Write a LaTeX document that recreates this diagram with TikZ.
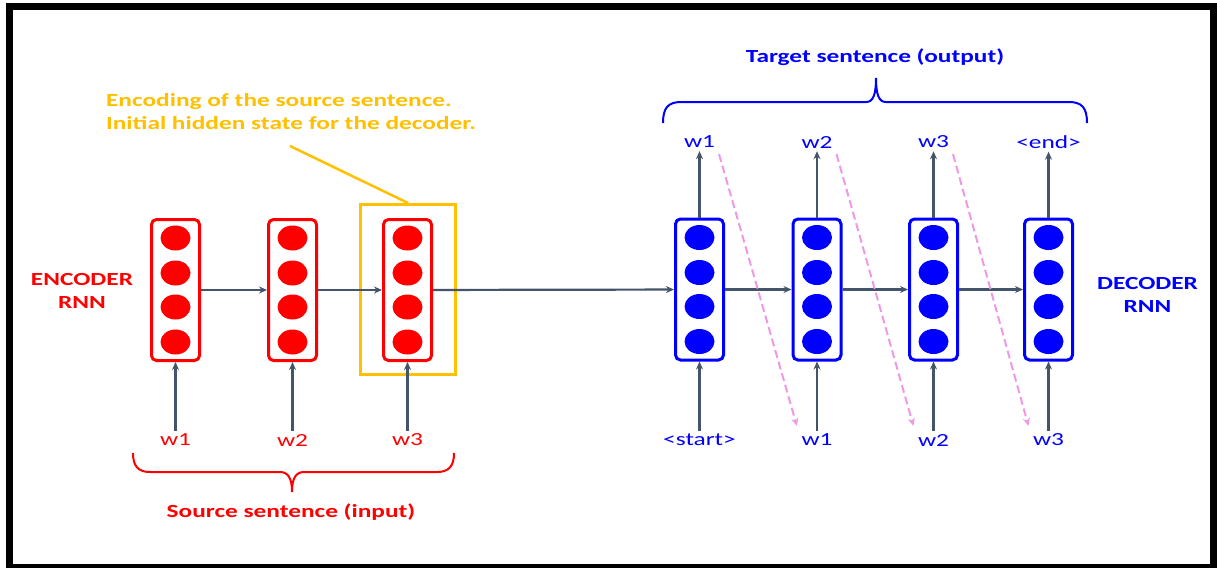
\documentclass[tikz,border=0pt]{standalone}
\usepackage{fontspec}
\setmainfont{Carlito}[FakeStretch=1.37]
\usetikzlibrary{arrows.meta}
\definecolor{encred}{HTML}{FF0000}
\definecolor{decblue}{HTML}{0000FF}
\definecolor{noteyellow}{HTML}{FFC000}
\definecolor{arrowgray}{HTML}{44546A}
\definecolor{feedpink}{HTML}{EE99E6}
\tikzset{
  cell/.style={draw, rounded corners=5pt, line width=3pt, minimum width=48pt, minimum height=141pt, inner sep=0pt},
  word/.style={font=\fontsize{18.5}{20}\selectfont, inner sep=3pt},
  title/.style={font=\fontsize{18.5}{23}\selectfont\bfseries},
  arr/.style={draw=arrowgray, line width=2.2pt, -{Stealth[length=8pt,width=7pt]}},
  feed/.style={draw=feedpink, line width=2pt, dash pattern=on 8pt off 4pt, shorten <=3pt, shorten >=5pt, -{Stealth[length=8pt,width=7pt]}},
}
\begin{document}
\begin{tikzpicture}[x=1pt,y=-1pt]
    \useasboundingbox (0,0) rectangle (1217,568);
    % frame
    \fill (6,3) rectangle (1217,568);
    \fill[white] (13,10) rectangle (1210,564);

    % encoder
    \node[draw=noteyellow, line width=3pt, minimum width=95pt, minimum height=170pt] (enc) at (408,289.5) {};
    \node[cell, draw=encred] (e1) at (175.5,290) {};
    \node[cell, draw=encred] (e2) at (292.5,290) {};
    \node[cell, draw=encred] (e3) at (407.5,290) {};
    \foreach \c in {e1,e2,e3}
        \foreach \dy in {52,17,-17,-52}
            \fill[encred] ([yshift=\dy pt]\c.center) ellipse (15 and 12.5);
    \node[word, text=encred] (x1) at (175.5,440) {w1};
    \node[word, text=encred] (x2) at (292.5,440) {w2};
    \node[word, text=encred] (x3) at (407.5,440) {w3};
    \node[title, text=encred, align=center] (encname) at (82,291) {ENCODER\\RNN};

    % decoder
    \node[cell, draw=decblue] (d1) at (699.5,289.5) {};
    \node[cell, draw=decblue] (d2) at (817,289.5) {};
    \node[cell, draw=decblue] (d3) at (933.5,289.5) {};
    \node[cell, draw=decblue] (d4) at (1048.5,289.5) {};
    \foreach \c in {d1,d2,d3,d4}
        \foreach \dy in {52,17,-17,-52}
            \fill[decblue] ([yshift=\dy pt]\c.center) ellipse (15 and 12.5);
    \node[word, text=decblue] (s0) at (699.5,440) {<start>};
    \node[word, text=decblue] (i1) at (817,440) {w1};
    \node[word, text=decblue] (i2) at (933.5,440) {w2};
    \node[word, text=decblue] (i3) at (1048.5,440) {w3};
    \node[word, text=decblue] (o1) at (699.5,142) {w1};
    \node[word, text=decblue] (o2) at (817,142) {w2};
    \node[word, text=decblue] (o3) at (933.5,142) {w3};
    \node[word, text=decblue] (o4) at (1048.5,142) {<end>};
    \node[title, text=decblue, align=center] (decname) at (1147.5,295) {DECODER\\RNN};

    % connections
    \draw[arr] (x1) -- (e1);
    \draw[arr] (x2) -- (e2);
    \draw[arr] (x3) -- (e3);
    \draw[arr] (e1) -- (e2);
    \draw[arr] (e2) -- (e3);
    \draw[arr] (e3) -- (d1);
    \draw[arr] (d1) -- (d2);
    \draw[arr] (d2) -- (d3);
    \draw[arr] (d3) -- (d4);
    \draw[arr] (s0) -- (d1);
    \draw[arr] (i1) -- (d2);
    \draw[arr] (i2) -- (d3);
    \draw[arr] (i3) -- (d4);
    \draw[arr] (d1) -- (o1);
    \draw[arr] (d2) -- (o2);
    \draw[arr] (d3) -- (o3);
    \draw[arr] (d4) -- (o4);
    \draw[feed] (o1.south east) -- (i1.north west);
    \draw[feed] (o2.south east) -- (i2.north west);
    \draw[feed] (o3.south east) -- (i3.north west);

    % note on the last encoder state
    \node[title, text=noteyellow, align=left] (note) at (291,112)
    {Encoding of the source sentence.\\Initial hidden state for the decoder.};
    \coordinate (tail) at (290,146);
    \draw[noteyellow, line width=2.5pt] (tail) -- (enc.north);

    % braces
    \draw[encred, line width=2pt] (133,453) .. controls (133,466) and (138,472) .. (150,472)
        -- (280,472) .. controls (288,472) and (292,478) .. (292,492)
        .. controls (292,478) and (296,472) .. (304,472)
        -- (437,472) .. controls (449,472) and (454,466) .. (454,453);
    \node[title, text=encred] (src) at (291,512) {Source sentence (input)};
    \draw[decblue, line width=2pt] (663,123) .. controls (663,108) and (668,102) .. (681,102)
        -- (866,102) .. controls (873,102) and (876,95) .. (876,78)
        .. controls (876,95) and (879,102) .. (886,102)
        -- (1069,102) .. controls (1082,102) and (1087,108) .. (1087,123);
    \node[title, text=decblue] (tgt) at (875,57) {Target sentence (output)};
\end{tikzpicture}
\end{document}
